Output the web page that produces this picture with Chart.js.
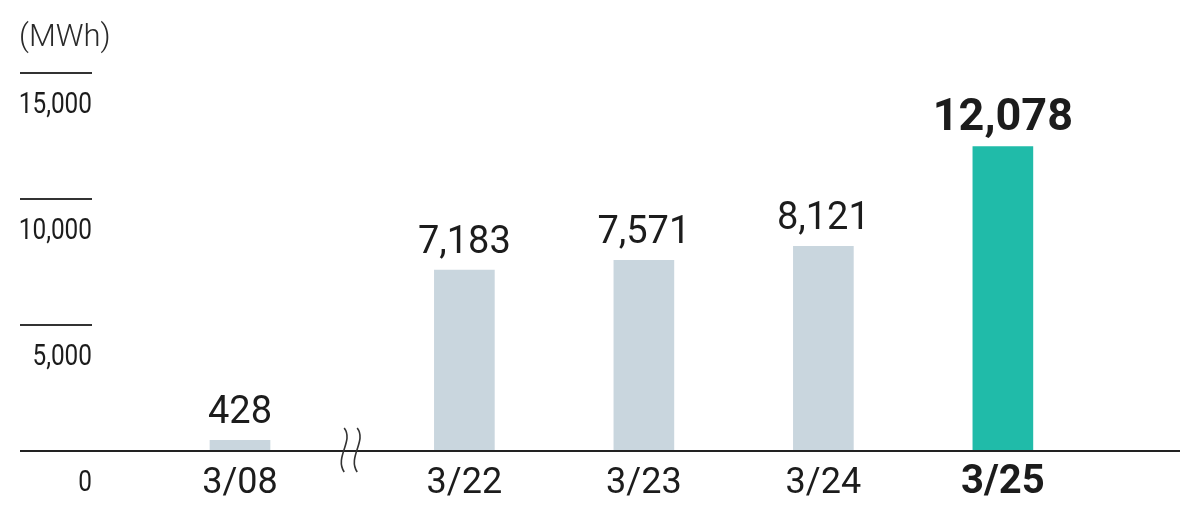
<!DOCTYPE html>
<html>
<head>
<meta charset="utf-8">
<script src="https://cdn.jsdelivr.net/npm/chart.js@4"></script>
<style>
  html, body { margin: 0; padding: 0; background: #ffffff; }
  #wrap { width: 1200px; height: 520px; position: relative; }
  canvas { display: block; }
</style>
</head>
<body>
<div id="wrap"><canvas id="c" width="1200" height="520"></canvas></div>
<script>
// ---- data ----
const categories = ['3/08', '3/22', '3/23', '3/24', '3/25'];
const values = [428, 7183, 7571, 8121, 12078];
const yTicks = [0, 5000, 10000, 15000];
const yTickLabels = ['0', '5,000', '10,000', '15,000'];
const unitLabel = '(MWh)';
const highlightIndex = 4;

// ---- layout / style ----
const breakGap = 0.25;            // extra slot width after the axis break
const breakAfter = 0;             // break sits after this category
const xPos = categories.map((c, i) => i + (i > breakAfter ? breakGap : 0));
const GRAY = '#c9d6de';
const TEAL = '#20bba9';
const INK = '#1c1c1c';
const fmt = v => v.toLocaleString('en-US');

function condensedText(ctx, text, x, y, squeeze) {
  ctx.save();
  ctx.translate(x, y);
  ctx.scale(squeeze, 1);
  ctx.fillText(text, 0, 0);
  ctx.restore();
}

const decor = {
  id: 'decor',
  afterDatasetsDraw(chart) {
    const ctx = chart.ctx;
    const xs = chart.scales.x, ys = chart.scales.y;
    const area = chart.chartArea;
    const base = ys.getPixelForValue(0);
    ctx.save();

    // unit label
    ctx.fillStyle = '#2a2a2a';
    ctx.font = '300 31px Roboto, "Liberation Sans", sans-serif';
    ctx.textAlign = 'left';
    ctx.textBaseline = 'alphabetic';
    ctx.fillText(unitLabel, 19, 46);

    // y tick marks + labels (below the marks)
    yTicks.forEach((t, i) => {
      const y = ys.getPixelForValue(t);
      if (t !== 0) {
        ctx.strokeStyle = '#333333';
        ctx.lineWidth = 2;
        ctx.beginPath();
        ctx.moveTo(area.left, y);
        ctx.lineTo(area.left + 72, y);
        ctx.stroke();
      }
      ctx.fillStyle = INK;
      ctx.font = '29px Roboto, "Liberation Sans", sans-serif';
      ctx.textAlign = 'right';
      condensedText(ctx, yTickLabels[i], area.left + 72, y + 40, 0.84);
    });

    // baseline
    ctx.strokeStyle = '#222222';
    ctx.lineWidth = 2;
    ctx.beginPath();
    ctx.moveTo(area.left, base);
    ctx.lineTo(area.right, base);
    ctx.stroke();

    // axis break mark
    const bx = (xs.getPixelForValue(xPos[breakAfter]) + xs.getPixelForValue(xPos[breakAfter + 1])) / 2 - 1.5;
    ctx.strokeStyle = '#333333';
    ctx.lineWidth = 1.6;
    [-6.5, 6.5].forEach(off => {
      const x = bx + off, top = base - 23, bot = base + 21;
      ctx.beginPath();
      ctx.moveTo(x, top);
      ctx.bezierCurveTo(x + 10, top + 13, x - 10, bot - 15, x, bot);
      ctx.stroke();
    });

    // value labels and category labels
    const meta = chart.getDatasetMeta(0);
    meta.data.forEach((bar, i) => {
      const hi = i === highlightIndex;
      ctx.fillStyle = INK;
      ctx.textAlign = 'center';
      ctx.textBaseline = 'alphabetic';
      ctx.font = (hi ? 'bold 45px' : '38px') + ' Roboto, "Liberation Sans", sans-serif';
      ctx.fillText(fmt(values[i]), bar.x, bar.y - 17);
      ctx.font = (hi ? 'bold 40px' : '36px') + ' Roboto, "Liberation Sans", sans-serif';
      ctx.fillText(categories[i], bar.x, base + 42);
    });
    ctx.restore();
  }
};

new Chart(document.getElementById('c'), {
  type: 'bar',
  data: {
    datasets: [{
      data: categories.map((c, i) => ({ x: xPos[i], y: values[i] })),
      backgroundColor: categories.map((c, i) => i === highlightIndex ? TEAL : GRAY),
      borderWidth: 0,
      barThickness: 60
    }]
  },
  options: {
    responsive: false,
    devicePixelRatio: 1,
    animation: false,
    layout: { padding: { left: 20, right: 20, top: 73, bottom: 69 } },
    plugins: { legend: { display: false }, tooltip: { enabled: false } },
    scales: {
      x: { type: 'linear', display: false, offset: false, min: -1.2256, max: 5.2368 },
      y: { display: false, min: 0, max: 15000 }
    }
  },
  plugins: [decor]
});
</script>
</body>
</html>
